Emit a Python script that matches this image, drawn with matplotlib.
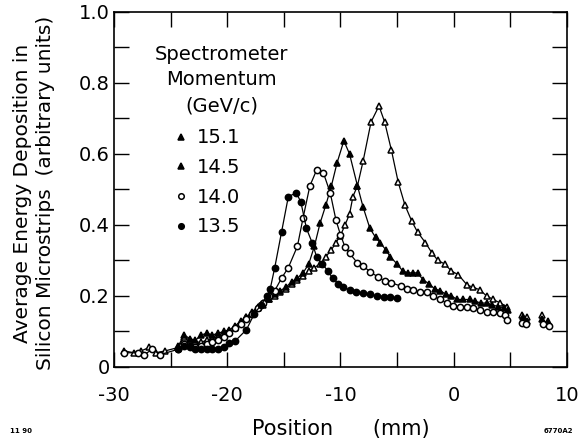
import numpy as np
import matplotlib
matplotlib.use("Agg")
import matplotlib.pyplot as plt
from matplotlib.lines import Line2D
from matplotlib.ticker import MultipleLocator

plt.rcParams['font.family'] = ['DejaVu Sans']
plt.rcParams['axes.unicode_minus'] = False

## energy deposition vs position, one scan per spectrometer momentum (GeV/c)

# 15.1 GeV/c  (open triangles)
x151 = [-29.1, -28.2, -27.6, -26.9, -26.3, -25.5,
        -24.3, -23.8, -23.3, -22.8, -22.3, -21.8, -21.3, -20.8, -20.3, -19.8,
        -19.3, -18.8, -18.3, -17.8, -17.3, -16.8, -16.3, -15.8, -15.3, -14.8,
        -14.3, -13.8, -13.3, -12.8, -12.3, -11.8, -11.3, -10.8, -10.4, -10.0,
        -9.6, -9.2, -8.9, -8.5, -8.0, -7.3, -6.6, -6.1, -5.5, -4.9, -4.3,
        -3.7, -3.2, -2.5, -1.9, -1.4, -0.8, -0.2, 0.4, 1.2, 1.7, 2.3, 2.9,
        3.5, 4.1, 4.7]
y151 = [0.045, 0.040, 0.045, 0.055, 0.040, 0.045,
        0.055, 0.085, 0.075, 0.070, 0.070, 0.075, 0.080, 0.085, 0.090, 0.100,
        0.110, 0.125, 0.140, 0.150, 0.165, 0.175, 0.190, 0.200, 0.210, 0.220,
        0.235, 0.245, 0.255, 0.270, 0.280, 0.290, 0.310, 0.330, 0.350, 0.370,
        0.400, 0.430, 0.480, 0.510, 0.580, 0.690, 0.735, 0.690, 0.610, 0.520, 0.455,
        0.410, 0.380, 0.350, 0.320, 0.300, 0.290, 0.270, 0.260, 0.230, 0.225, 0.217, 0.200,
        0.190, 0.180, 0.170]
x151_tail = [6.0, 6.5, 7.8, 8.3]
y151_tail = [0.145, 0.140, 0.145, 0.130]

# 14.5 GeV/c  (filled triangles)
x145 = [-24.3, -23.8, -23.3, -22.8, -22.3, -21.8, -21.3, -20.8, -20.3, -19.8,
        -19.3, -18.8, -18.3, -17.8, -17.3, -16.8, -16.3, -15.8, -15.3, -14.8,
        -14.3, -13.8, -13.3, -12.8, -12.3, -11.8, -11.3, -10.8, -10.3, -9.7,
        -9.2, -8.5, -8.0, -7.4, -6.9, -6.5, -6.0, -5.6, -5.0, -4.5, -4.0,
        -3.6, -3.2, -2.7, -2.2, -1.7, -1.2, -0.7, -0.2, 0.3, 0.8, 1.4, 1.9,
        2.4, 2.9, 3.4, 3.9, 4.4, 4.8]
y145 = [0.060, 0.090, 0.080, 0.075, 0.090, 0.095, 0.090, 0.095, 0.100, 0.105,
        0.115, 0.130, 0.140, 0.155, 0.170, 0.180, 0.190, 0.205, 0.215, 0.225,
        0.240, 0.250, 0.265, 0.290, 0.340, 0.405, 0.455, 0.510, 0.575, 0.637,
        0.600, 0.510, 0.450, 0.390, 0.365, 0.350, 0.330, 0.310, 0.290, 0.270, 0.265,
        0.265, 0.265, 0.245, 0.235, 0.220, 0.215, 0.205, 0.200, 0.190, 0.190, 0.190, 0.185,
        0.180, 0.180, 0.175, 0.170, 0.165, 0.160]
x145_tail = [6.1, 6.5, 7.8, 8.3]
y145_tail = [0.140, 0.130, 0.135, 0.125]

# 14.0 GeV/c  (open circles)
x140 = [-29.1, -27.9, -27.3, -26.6, -25.9,
        -24.3, -23.8, -23.3, -22.8, -22.3, -21.8, -21.3, -20.8, -20.3, -19.8,
        -19.3, -18.8, -18.3, -17.8, -17.3, -16.8, -16.3, -15.8, -15.2, -14.6,
        -13.8, -13.3, -12.7, -12.1, -11.5, -10.9, -10.4, -10.0, -9.6, -9.2,
        -8.5, -8.0, -7.4, -6.7, -6.1, -5.5, -4.7, -4.1, -3.6, -3.0, -2.4,
        -1.8, -1.2, -0.6, -0.1, 0.55, 1.2, 1.7, 2.3, 2.9, 3.5, 4.1, 4.5, 4.7]
y140 = [0.040, 0.040, 0.035, 0.050, 0.035,
        0.050, 0.065, 0.060, 0.055, 0.060, 0.065, 0.070, 0.075, 0.085, 0.095,
        0.110, 0.120, 0.135, 0.150, 0.165, 0.180, 0.200, 0.215, 0.250, 0.280,
        0.340, 0.420, 0.510, 0.555, 0.546, 0.490, 0.414, 0.372, 0.338, 0.320,
        0.293, 0.285, 0.268, 0.254, 0.242, 0.237, 0.228, 0.220, 0.217, 0.211, 0.211,
        0.200, 0.190, 0.180, 0.172, 0.169, 0.169, 0.166, 0.160, 0.155, 0.155, 0.152, 0.146, 0.132]
x140_tail = [6.0, 6.4, 7.9, 8.4]
y140_tail = [0.125, 0.120, 0.120, 0.115]

# 13.5 GeV/c  (filled circles)
x135 = [-24.3, -23.8, -23.3, -22.8, -22.3, -21.8, -21.3, -20.8, -20.3, -19.8,
        -19.3, -18.3, -17.6, -17.0, -16.5, -16.2, -15.8, -15.2, -14.6, -13.9,
        -13.5, -13.0, -12.5, -12.1, -11.6, -11.1, -10.7, -10.2, -9.8, -9.2,
        -8.6, -8.0, -7.4, -6.8, -6.2, -5.6, -5.0]
y135 = [0.050, 0.060, 0.055, 0.050, 0.050, 0.050, 0.050, 0.050, 0.055, 0.068,
        0.073, 0.105, 0.150, 0.175, 0.200, 0.220, 0.280, 0.380, 0.480, 0.490,
        0.465, 0.390, 0.350, 0.310, 0.290, 0.270, 0.250, 0.235, 0.225, 0.217,
        0.210, 0.208, 0.205, 0.200, 0.198, 0.197, 0.195]

xticks = [-30, -20, -10, 0, 10]
xtick_labels = ['-30', '-20', '-10', '0', '10']
yticks = [0, 0.2, 0.4, 0.6, 0.8, 1.0]
ytick_labels = ['0', '0.2', '0.4', '0.6', '0.8', '1.0']

series = [
    ('15.1', x151, y151, x151_tail, y151_tail, '^', 'white', 'black'),
    ('14.5', x145, y145, x145_tail, y145_tail, '^', 'black', 'black'),
    ('14.0', x140, y140, x140_tail, y140_tail, 'o', 'white', 'white'),
    ('13.5', x135, y135, [], [], 'o', 'black', 'black'),
]

fig = plt.figure(figsize=(5.81, 4.40), dpi=100)
ax = fig.add_axes([0.196, 0.166, 0.780, 0.807])

handles = []
for lab, xs, ys, xt, yt, mk, fc, legfc in series:
    ax.plot(xs, ys, color='black', lw=0.9, marker=mk, mfc=fc, mec='black',
            ms=4.5, mew=1.1, zorder=3)
    if len(xt):
        ax.plot(xt, yt, ls='none', marker=mk, mfc=fc, mec='black',
                ms=4.5, mew=1.1, zorder=3)
    handles.append(Line2D([], [], ls='none', marker=mk, mfc=legfc, mec='black',
                          ms=4.0, mew=1.1, label=lab))

ax.set_xlim(-30, 10)
ax.set_ylim(0, 1.0)
ax.set_xticks(xticks)
ax.set_xticklabels(xtick_labels)
ax.set_yticks(yticks)
ax.set_yticklabels(ytick_labels)
ax.xaxis.set_minor_locator(MultipleLocator(5))
ax.yaxis.set_minor_locator(MultipleLocator(0.1))
ax.tick_params(which='both', direction='in', top=True, right=True,
               length=10.5, width=1.0, labelsize=14)
ax.tick_params(axis='x', pad=14)
ax.tick_params(axis='y', pad=3)
for s in ax.spines.values():
    s.set_linewidth(1.2)

ax.set_xlabel('Position      (mm)', fontsize=15, labelpad=10)
ax.set_ylabel('Average Energy Deposition in\nSilicon Microstrips  (arbitrary units)',
              fontsize=14.5, linespacing=1.25)
ax.yaxis.label.set_verticalalignment('center')
ax.yaxis.set_label_coords(-0.176, 0.49)

ax.text(0.238, 0.908, 'Spectrometer\nMomentum\n(GeV/c)', transform=ax.transAxes,
        ha='center', va='top', fontsize=14, linespacing=1.45)
ax.legend(handles=handles, loc='upper left', bbox_to_anchor=(0.135, 0.672),
          frameon=False, fontsize=14, handlelength=0.6, handletextpad=0.5,
          labelspacing=0.55, borderpad=0, borderaxespad=0)

fig.text(0.018, 0.015, '11 90', fontsize=5, weight='bold')
fig.text(0.935, 0.015, '6770A2', fontsize=5, weight='bold')

plt.savefig('out.png', dpi=100)
